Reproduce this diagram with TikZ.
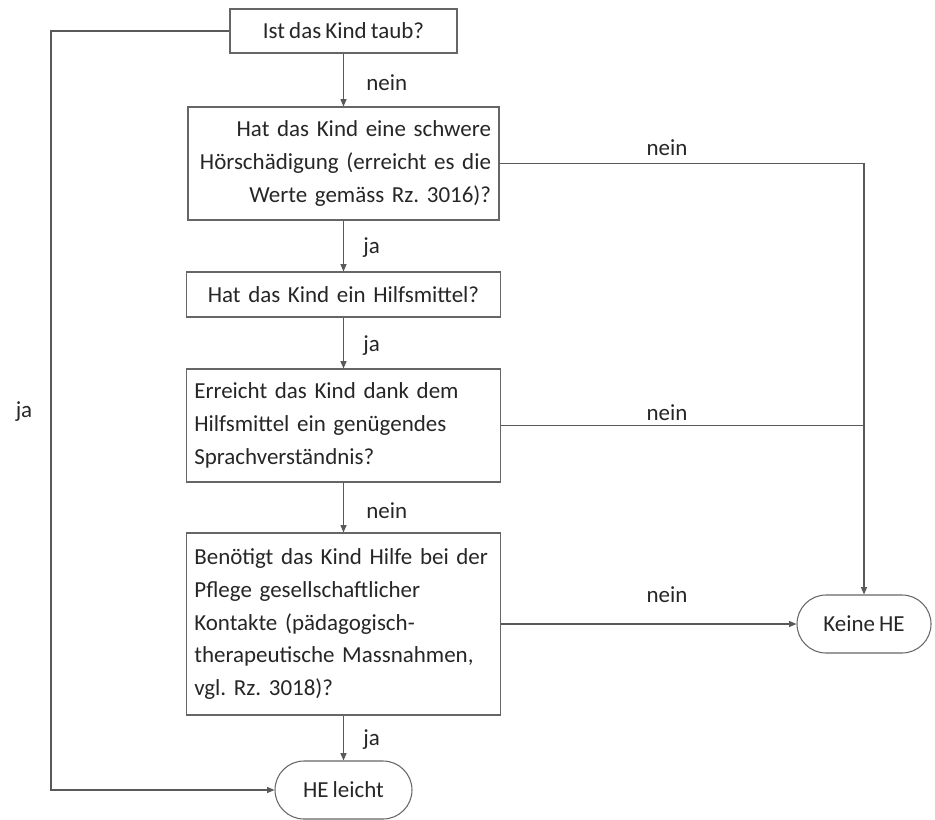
\documentclass[tikz,border=0pt]{standalone}
\usepackage{fontspec}
\setmainfont{Carlito}[WordSpace=0.8]
\usetikzlibrary{arrows.meta}

\begin{document}
\frenchspacing
\begin{tikzpicture}[x=0.03cm, y=-0.03cm,
  font=\fontsize{19.6}{28}\selectfont,
  kasten/.style={draw=black!60, line width=0.9pt, inner xsep=0.24cm, inner ysep=0pt, text=black!85},
  ende/.style={draw=black!60, line width=0.9pt, rounded corners=0.87cm, minimum height=1.74cm, text=black!85},
  pfeil/.style={draw=black!65, line width=0.9pt, -{Triangle[length=0.22cm,width=0.18cm]}},
  linie/.style={draw=black!65, line width=0.9pt},
  lbl/.style={text=black!85, inner sep=1pt}]

  % Rahmen (Pixel der Vorlage)
  \useasboundingbox (0,0) rectangle (935,819);
  \def\mx{343.5}

  % 1. Fragen
  \node[kasten, minimum width=227*0.03cm, minimum height=44*0.03cm] (taub) at (\mx,31) {Ist das Kind taub?};
  \node[kasten, text width=8.85cm, align=right, minimum height=113*0.03cm] (schwer) at (\mx,163.5)
    {Hat das Kind eine schwere\\Hörschädigung (erreicht es die\\Werte gemäss Rz. 3016)?};
  \node[kasten, text width=8.95cm, align=center, minimum height=45*0.03cm] (hilfe) at (\mx,294.5)
    {Hat das Kind ein Hilfsmittel?};
  \node[kasten, text width=8.95cm, align=left, minimum height=113*0.03cm] (sprache) at (\mx,425.5)
    {Erreicht das Kind dank dem\\Hilfsmittel ein genügendes\\Sprachverständnis?};
  \node[kasten, text width=8.95cm, align=left, minimum height=182*0.03cm] (kontakte) at (\mx,624)
    {Benötigt das Kind Hilfe bei der\\Pflege gesellschaftlicher\\Kontakte (pädagogisch-\\therapeutische Massnahmen,\\vgl. Rz. 3018)?};

  % 2. Ergebnisse
  \node[ende, minimum width=137*0.03cm] (leicht) at (\mx,790) {HE leicht};
  \node[ende, minimum width=134*0.03cm] (keine) at (864,624) {Keine HE};

  % 3. Pfeile in der Mitte
  \draw[pfeil] (taub) -- (schwer);
  \draw[pfeil] (schwer) -- (hilfe);
  \draw[pfeil] (hilfe) -- (sprache);
  \draw[pfeil] (sprache) -- (kontakte);
  \draw[pfeil] (kontakte) -- (leicht);

  % 4. Seitenwege
  \coordinate (links) at (51,31);
  \draw[pfeil] (taub.west) -- (links) |- (leicht.west);
  \draw[pfeil] (schwer.east) -| (keine.north);
  \draw[linie] (sprache.east) -- (sprache.east -| keine.north);
  \draw[pfeil] (kontakte.east) -- (keine.west);

  % 5. Beschriftungen
  \node[lbl, anchor=west] (n1) at (365,83) {nein};
  \node[lbl, anchor=west] (j1) at (362,248) {ja};
  \node[lbl, anchor=west] (j2) at (362,346) {ja};
  \node[lbl, anchor=west] (n2) at (365,511) {nein};
  \node[lbl, anchor=west] (j3) at (362,740) {ja};
  \node[lbl] (j0) at (24,412) {ja};
  \node[lbl] (n3) at (667,148) {nein};
  \node[lbl] (n4) at (667,413) {nein};
  \node[lbl] (n5) at (667,595) {nein};

\end{tikzpicture}
\end{document}
